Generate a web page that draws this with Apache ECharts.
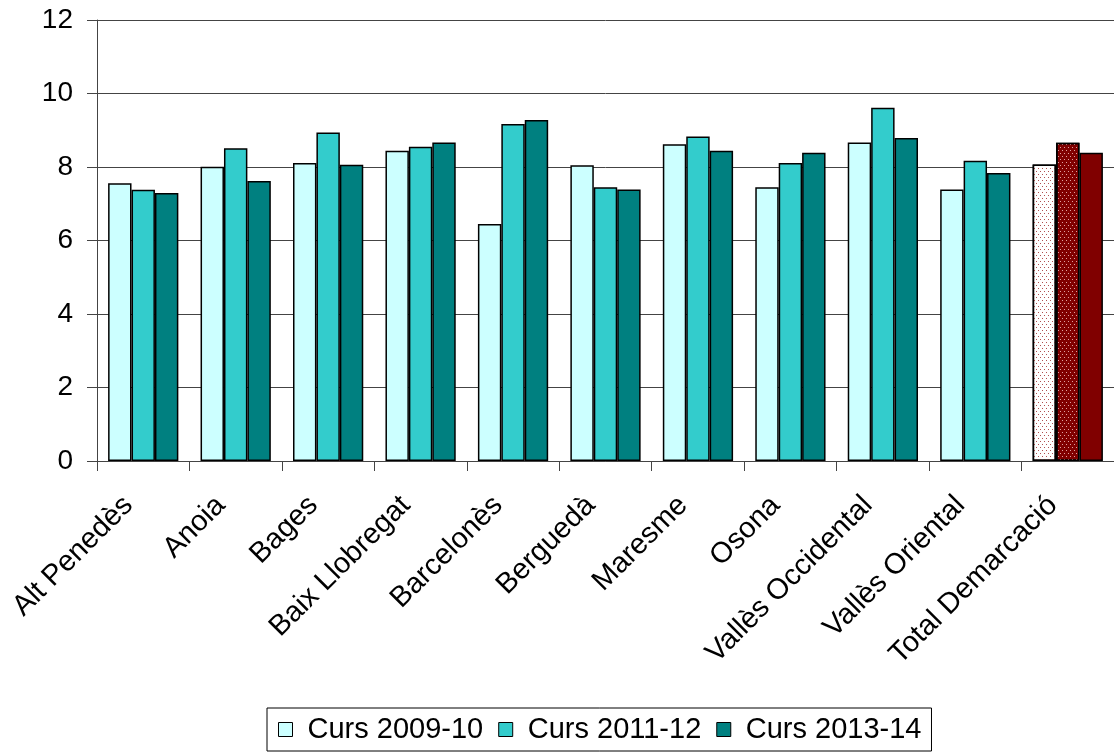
<!DOCTYPE html>
<html><head><meta charset="utf-8">
<script src="https://cdn.jsdelivr.net/npm/echarts@6/dist/echarts.min.js"></script>
<style>html,body{margin:0;padding:0;background:#fff}#c{width:1114px;height:755px}</style>
</head><body><div id="c"></div>
<script>
const categories = ['Alt Penedès','Anoia','Bages','Baix Llobregat','Barcelonès','Berguedà','Maresme','Osona','Vallès Occidental','Vallès Oriental','Total Demarcació'];
const seriesNames = ['Curs 2009-10','Curs 2011-12','Curs 2013-14'];
const curs2009 = [7.56, 8.01, 8.11, 8.44, 6.45, 8.05, 8.62, 7.45, 8.67, 7.39, 8.07];
const curs2011 = [7.38, 8.51, 8.94, 8.55, 9.17, 7.45, 8.83, 8.11, 9.61, 8.17, 8.66];
const curs2013 = [7.29, 7.62, 8.06, 8.67, 9.28, 7.39, 8.44, 8.39, 8.79, 7.84, 8.39];
const yTicks = [0, 2, 4, 6, 8, 10, 12];

const FONT = 'Liberation Sans, Arial, sans-serif';
const colors = ['#CCFFFF', '#33CCCC', '#008080'];
const totalStyles = [
  {color:'#ffffff', decal:{symbol:'rect', symbolSize:1, color:'#b05050', dashArrayX:[[1,3],[0,2,1,1]], dashArrayY:[1,1.5]}},
  {color:'#800000', decal:{symbol:'rect', symbolSize:1, color:'#e0a0a0', dashArrayX:[[1,3],[0,2,1,1]], dashArrayY:[1,1.5]}},
  {color:'#800000'}
];
function buildData(arr, si) {
  return arr.map((v, i) => {
    if (i === categories.length - 1) {
      return {value: v, itemStyle: Object.assign({borderColor:'#000', borderWidth:1.5}, totalStyles[si])};
    }
    return v;
  });
}
const all = [curs2009, curs2011, curs2013];
const chart = echarts.init(document.getElementById('c'));
chart.setOption({
  animation: false,
  textStyle: {fontFamily: FONT},
  grid: {left: 97, right: 0, top: 20, bottom: 294, containLabel: false},
  legend: {
    top: 708, left: 267,
    data: seriesNames,
    icon: 'rect', itemWidth: 14, itemHeight: 14, itemGap: 15,
    borderColor: '#000', borderWidth: 1, borderRadius: 0,
    padding: [7, 10, 7, 11],
    itemStyle: {borderColor: '#000', borderWidth: 1},
    textStyle: {fontSize: 29, color: '#000', fontFamily: FONT, padding: [0, 0, 0, 10]}
  },
  xAxis: {
    type: 'category', data: categories,
    axisLine: {lineStyle: {color: '#444', width: 1}},
    axisTick: {show: true, length: 10, lineStyle: {color: '#444'}},
    axisLabel: {rotate: 45, fontSize: 29, color: '#000', margin: 25, interval: 0, padding: [0, 21, 0, 0]}
  },
  yAxis: {
    type: 'value', min: yTicks[0], max: yTicks[yTicks.length-1], interval: 2,
    axisLine: {show: true, lineStyle: {color: '#444', width: 1}},
    axisTick: {show: true, length: 10, lineStyle: {color: '#444'}},
    axisLabel: {fontSize: 28, color: '#000', margin: 24},
    splitLine: {lineStyle: {color: '#444', width: 1}}
  },
  series: all.map((arr, si) => ({
    name: seriesNames[si], type: 'bar',
    data: buildData(arr, si),
    barGap: '0%', barCategoryGap: '24%',
    itemStyle: {color: colors[si], borderColor: '#000', borderWidth: 1.5}
  }))
});
</script></body></html>
